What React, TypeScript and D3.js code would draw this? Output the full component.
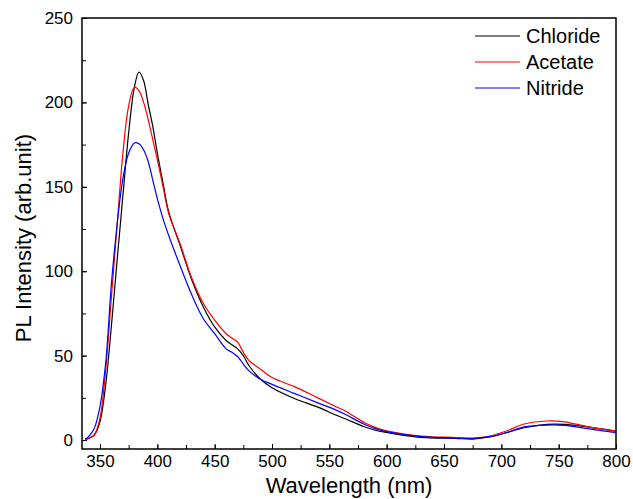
import React, { useRef, useEffect } from 'react';
import * as d3 from 'd3';

// wavelength grid (nm) shared by all three spectra
const wavelengths = [337, 340, 345, 350, 355, 360, 365, 370, 375, 380, 384, 388, 392, 396, 400, 405, 410, 420, 430, 440, 450, 460, 465, 470, 475, 480, 490, 500, 520, 540, 555, 565, 580, 590, 600, 630, 660, 675, 690, 705, 720, 740, 755, 775, 800];

const chloride = [0.3, 1, 3, 11, 33, 68, 107, 145, 182, 209, 218, 213, 199, 186, 170, 152, 135, 115, 95, 79, 67, 59, 56.5, 54, 50, 44, 36, 31, 24.5, 19.5, 15, 12.3, 8, 5.8, 4.5, 1.6, 1, 0.6, 1.8, 4.5, 7.3, 9.3, 9.3, 7.8, 5.3];
const acetate = [0.3, 1, 3, 13, 42, 85, 128, 170, 198, 209, 207, 200, 190, 178, 166, 150, 134, 116, 96, 81, 71, 63, 60.5, 58, 52, 47, 42, 37, 31.5, 25, 20, 16.8, 10.5, 7.5, 5.5, 2.4, 1.5, 1, 2.4, 5.5, 9.5, 11.3, 10.8, 8, 5.3];
const nitride = [0.5, 2, 7, 20, 46, 93, 128, 155, 170, 176, 175.5, 172, 165, 154, 143, 131, 121, 103, 86, 72, 63, 54, 52, 49.5, 45, 41, 36, 33, 27.5, 22, 18, 14.8, 9.5, 6.8, 5, 2, 1.2, 1, 2, 4.5, 7.8, 8.9, 8.7, 6.8, 4.4];

const seriesNames = ['Chloride', 'Acetate', 'Nitride'];
const seriesColors = ['#000000', '#ff0000', '#0000ff'];
const seriesValues = [chloride, acetate, nitride];

const xTicks = [350, 400, 450, 500, 550, 600, 650, 700, 750, 800];
const yTicks = [0, 50, 100, 150, 200, 250];

const App = () => {
  const ref = useRef<SVGSVGElement>(null);

  useEffect(() => {
    const width = 633;
    const height = 499;
    const margin = { top: 18, right: 17, bottom: 50, left: 82 };

    const svg = d3.select(ref.current);
    svg.selectAll('*').remove();

    const x = d3.scaleLinear()
      .domain([334.3, 800])
      .range([margin.left, width - margin.right]);
    const y = d3.scaleLinear()
      .domain([-5.3, 250])
      .range([height - margin.bottom, margin.top]);

    const font = 'Liberation Sans, Arial, sans-serif';

    // minor ticks
    svg.append('g')
      .attr('transform', `translate(0,${height - margin.bottom})`)
      .call(d3.axisBottom(x).tickValues(d3.range(350, 800, 25)).tickSize(-4).tickFormat(() => ''))
      .call(g => g.select('.domain').remove());
    svg.append('g')
      .attr('transform', `translate(${margin.left},0)`)
      .call(d3.axisLeft(y).tickValues(d3.range(25, 250, 25)).tickSize(-4).tickFormat(() => ''))
      .call(g => g.select('.domain').remove());

    // major ticks + labels
    const xAxis = svg.append('g')
      .attr('transform', `translate(0,${height - margin.bottom})`)
      .call(d3.axisBottom(x).tickValues(xTicks).tickSize(-5).tickPadding(6));
    xAxis.select('.domain').remove();
    xAxis.selectAll('text').attr('font-size', 17).attr('font-family', font).attr('fill', '#000');

    const yAxis = svg.append('g')
      .attr('transform', `translate(${margin.left},0)`)
      .call(d3.axisLeft(y).tickValues(yTicks).tickSize(-5).tickPadding(9));
    yAxis.select('.domain').remove();
    yAxis.selectAll('text').attr('font-size', 17).attr('font-family', font).attr('fill', '#000');

    const line = d3.line<number>()
      .x((d, i) => x(wavelengths[i]))
      .y(d => y(d))
      .curve(d3.curveCatmullRom.alpha(0.5));

    seriesValues.forEach((vals, i) => {
      svg.append('path')
        .datum(vals)
        .attr('fill', 'none')
        .attr('stroke', seriesColors[i])
        .attr('stroke-width', 1.2)
        .attr('d', line);
    });

    // frame
    svg.append('rect')
      .attr('x', margin.left)
      .attr('y', margin.top)
      .attr('width', width - margin.left - margin.right)
      .attr('height', height - margin.top - margin.bottom)
      .attr('fill', 'none')
      .attr('stroke', '#000')
      .attr('stroke-width', 1.5);

    // legend
    const legend = svg.append('g');
    seriesNames.forEach((name, i) => {
      const ly = 36 + i * 26;
      legend.append('line')
        .attr('x1', 475).attr('x2', 520)
        .attr('y1', ly).attr('y2', ly)
        .attr('stroke', seriesColors[i])
        .attr('stroke-width', 1);
      legend.append('text')
        .attr('x', 526).attr('y', ly)
        .attr('dy', '0.35em')
        .attr('font-size', 20)
        .attr('font-family', font)
        .text(name);
    });

    // axis titles
    svg.append('text')
      .attr('x', (margin.left + width - margin.right) / 2)
      .attr('y', 493)
      .attr('text-anchor', 'middle')
      .attr('font-size', 22)
      .attr('font-family', font)
      .text('Wavelength (nm)');
    svg.append('text')
      .attr('transform', `translate(31,238) rotate(-90)`)
      .attr('text-anchor', 'middle')
      .attr('font-size', 22)
      .attr('font-family', font)
      .text('PL Intensity (arb.unit)');
  }, []);

  return (
    <svg ref={ref} width={633} height={499}
      style={{ position: 'absolute', left: 0, top: 0, background: '#fff' }} />
  );
};

export default App;
